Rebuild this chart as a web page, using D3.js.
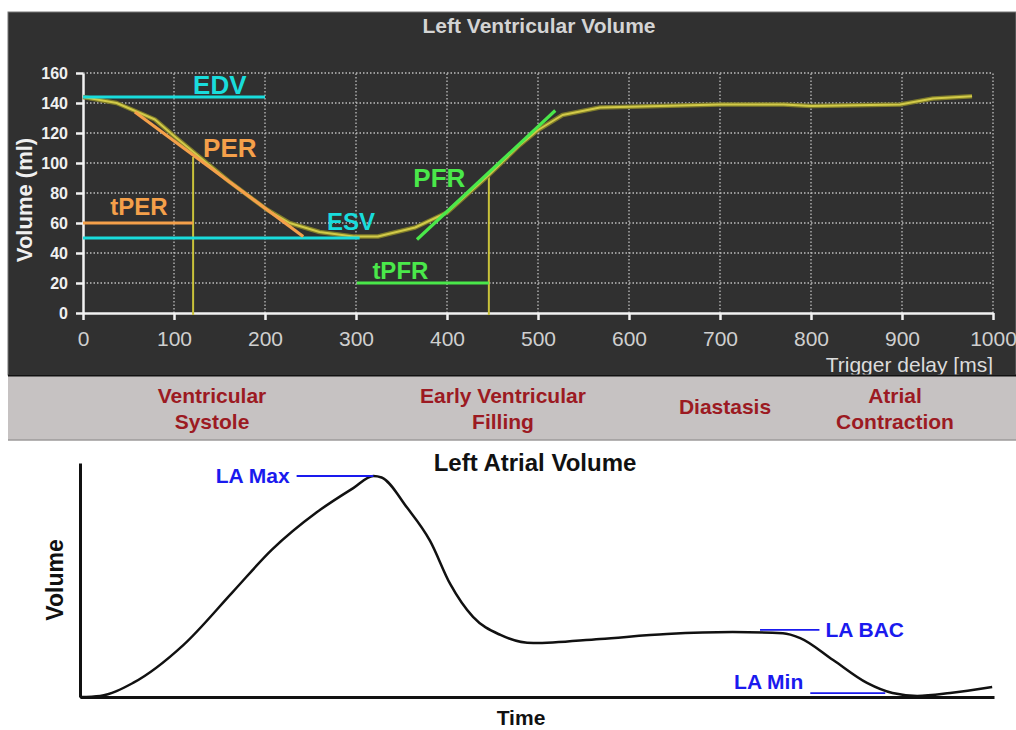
<!DOCTYPE html>
<html>
<head>
<meta charset="utf-8">
<script src="https://cdn.jsdelivr.net/npm/d3@7"></script>
<style>
  body { margin: 0; background: #fff; }
  svg { display: block; font-family: "Liberation Sans", Arial, sans-serif; }
</style>
</head>
<body>
<div id="wrapper"></div>
<script>
// Left ventricular volume curve (ms, ml)
const lvTime = [0, 37, 79, 100, 160, 202, 227, 260, 297, 324, 365, 400, 446, 480, 500, 527, 568, 700, 770, 800, 898, 934, 977]
const lvVolume = [144, 140, 129, 118, 88, 69, 60, 54, 51, 51, 57, 67, 92, 112, 122, 132, 137, 139, 139, 138, 139, 143, 144.5]

const xTicks = [0, 100, 200, 300, 400, 500, 600, 700, 800, 900, 1000]
const yTicks = [0, 20, 40, 60, 80, 100, 120, 140, 160]

// annotation lines on the LV chart: [t1, v1, t2, v2]
const lvMarkNames = ["EDV", "ESV", "PER", "tPER", "PFR", "tPFR"]
const lvMarkLines = [
  [0, 144, 200, 144],
  [0, 50, 304, 50],
  [57, 134, 242, 51],
  [0, 60, 121, 60],
  [367, 49, 519, 135],
  [301, 20, 446, 20]
]
const lvMarkLabelPos = [[121, 146], [268, 55.3], [132, 104], [30, 65.3], [363, 84], [318, 22.7]]
const lvMarkColors = ["#19dcdc", "#19dcdc", "#f5a04a", "#f5a04a", "#4ae84a", "#4ae84a"]
// yellow drop lines at tPER / tPFR
const dropTimes = [121, 446]
const dropVolumes = [104, 93]

const phaseNames = [["Ventricular", "Systole"], ["Early Ventricular", "Filling"], ["Diastasis"], ["Atrial", "Contraction"]]
const phaseCenters = [212, 503, 725, 895]

// Left atrial volume (arbitrary units)
const laTime = [0, 2.2, 5.8, 11.3, 16.7, 21.0, 25.9, 29.9, 32.1, 33.0, 35.8, 38.3, 40.5, 43.0, 46.0, 49.6, 56.9, 64.2, 71.4, 76.9, 78.8, 82.4, 86.1, 88.9, 91.6, 95.2, 99.8]
const laVolume = [0, 0.5, 6.4, 23.6, 47.7, 67, 84, 95, 100.5, 99.8, 86, 71, 51.4, 36.4, 28.2, 24.5, 26.4, 28.6, 29.5, 29, 26.8, 16.8, 6.4, 1.8, 0.5, 1.8, 4.5]

const laMarkNames = ["LA Max", "LA BAC", "LA Min"]
const laMarkStart = [23.7, 74.4, 79.9]
const laMarkEnd = [32.1, 80.9, 88.1]
const laMarkLevel = [100.5, 30.5, 1.8]

const width = 1016
const height = 730

const svg = d3.select("#wrapper")
  .append("svg")
  .attr("width", width)
  .attr("height", height)

// ---- top panel ----
svg.append("rect")
  .attr("x", 8).attr("y", 12)
  .attr("width", width - 8).attr("height", 363)
  .attr("fill", "#303030")
  .attr("stroke", "#777").attr("stroke-width", 1)

const xScale = d3.scaleLinear().domain([0, 1000]).range([83, 993])
const yScale = d3.scaleLinear().domain([0, 160]).range([313, 73])

svg.append("text")
  .attr("x", 539).attr("y", 33)
  .attr("text-anchor", "middle")
  .attr("font-size", "21px").attr("font-weight", "bold")
  .attr("fill", "#d4d4d4")
  .text("Left Ventricular Volume")

// grid
const grid = svg.append("g")
grid.selectAll(".vg").data(xTicks.slice(1)).join("line")
  .attr("x1", d => xScale(d)).attr("x2", d => xScale(d))
  .attr("y1", yScale(0)).attr("y2", yScale(160))
  .attr("stroke", "#bdbdbd").attr("stroke-width", 1.3)
  .attr("stroke-dasharray", "1.5 2")
grid.selectAll(".hg").data(yTicks.slice(1)).join("line")
  .attr("x1", xScale(0)).attr("x2", xScale(1000))
  .attr("y1", d => yScale(d)).attr("y2", d => yScale(d))
  .attr("stroke", "#bdbdbd").attr("stroke-width", 1.3)
  .attr("stroke-dasharray", "1.5 2")

// axes
const xAxis = svg.append("g")
  .attr("transform", `translate(0, ${yScale(0)})`)
  .call(d3.axisBottom(xScale).tickValues(xTicks).tickFormat(d3.format("d"))
    .tickSize(7).tickSizeOuter(0).tickPadding(11))
xAxis.selectAll("path, line").attr("stroke", "#f2f2f2").attr("stroke-width", 2.5)
xAxis.selectAll("text")
  .attr("fill", "#cfcfcf").attr("font-size", "21px")
  .attr("font-family", "\"Liberation Sans\", Arial, sans-serif")

const yAxis = svg.append("g")
  .attr("transform", `translate(${xScale(0)}, 0)`)
  .call(d3.axisLeft(yScale).tickValues(yTicks).tickSize(7).tickSizeOuter(0).tickPadding(8))
yAxis.selectAll("path, line").attr("stroke", "#f2f2f2").attr("stroke-width", 2.5)
yAxis.selectAll("text")
  .attr("fill", "#f0f0f0").attr("font-size", "16px").attr("font-weight", "bold")
  .attr("font-family", "\"Liberation Sans\", Arial, sans-serif")

svg.append("text")
  .attr("transform", "translate(32, 200) rotate(-90)")
  .attr("text-anchor", "middle")
  .attr("font-size", "22px").attr("font-weight", "bold")
  .attr("fill", "#f0f0f0")
  .text("Volume (ml)")

svg.append("text")
  .attr("x", 993).attr("y", 372)
  .attr("text-anchor", "end")
  .attr("font-size", "21px")
  .attr("fill", "#dcdcdc")
  .text("Trigger delay [ms]")

// yellow drop lines
svg.selectAll(".drop").data(dropTimes).join("line")
  .attr("x1", d => xScale(d)).attr("x2", d => xScale(d))
  .attr("y1", (d, i) => yScale(dropVolumes[i])).attr("y2", yScale(0) + 2)
  .attr("stroke", "#c9c23a").attr("stroke-width", 2)

// LV curve
const lvPoints = lvTime.map((t, i) => [t, lvVolume[i]])
const lvLine = d3.line()
  .x(d => xScale(d[0]))
  .y(d => yScale(d[1]))
svg.append("path")
  .attr("d", lvLine(lvPoints))
  .attr("fill", "none").attr("stroke", "#7f7c2a").attr("stroke-width", 4.5)
  .attr("stroke-linejoin", "round")
svg.append("path")
  .attr("d", lvLine(lvPoints))
  .attr("fill", "none").attr("stroke", "#d2ca48").attr("stroke-width", 2)
  .attr("stroke-linejoin", "round")

// annotation lines + labels
svg.selectAll(".mark").data(lvMarkLines).join("line")
  .attr("x1", d => xScale(d[0])).attr("y1", d => yScale(d[1]))
  .attr("x2", d => xScale(d[2])).attr("y2", d => yScale(d[3]))
  .attr("stroke", (d, i) => lvMarkColors[i])
  .attr("stroke-width", 3.2)

svg.selectAll(".markLabel").data(lvMarkNames).join("text")
  .attr("x", (d, i) => xScale(lvMarkLabelPos[i][0]))
  .attr("y", (d, i) => yScale(lvMarkLabelPos[i][1]))
  .attr("fill", (d, i) => lvMarkColors[i])
  .attr("font-size", d => (d === "EDV" || d === "PER" || d === "PFR") ? "26px" : "24px")
  .attr("font-weight", "bold")
  .text(d => d)

// ---- phase band ----
svg.append("rect")
  .attr("x", 8).attr("y", 375)
  .attr("width", width - 8).attr("height", 65)
  .attr("fill", "#c6c2c2")
svg.append("line")
  .attr("x1", 8).attr("x2", width).attr("y1", 375.5).attr("y2", 375.5)
  .attr("stroke", "#111").attr("stroke-width", 2)
svg.append("line")
  .attr("x1", 8).attr("x2", width).attr("y1", 440).attr("y2", 440)
  .attr("stroke", "#9c9a9a").attr("stroke-width", 1.5)

const phase = svg.selectAll(".phase").data(phaseNames).join("text")
  .attr("text-anchor", "middle")
  .attr("fill", "#9c1a22")
  .attr("font-size", "21px").attr("font-weight", "bold")
  .attr("x", (d, i) => phaseCenters[i])
  .attr("y", d => d.length === 1 ? 414 : 403)
phase.selectAll("tspan").data(d => d).join("tspan")
  .attr("x", function () { return this.parentNode.getAttribute("x") })
  .attr("dy", (d, i) => i === 0 ? 0 : 26)
  .text(d => d)

// ---- bottom chart ----
const laX = d3.scaleLinear().domain([0, 100]).range([80, 994])
const laY = d3.scaleLinear().domain([0, 106.4]).range([697, 463])

svg.append("text")
  .attr("x", 535).attr("y", 471)
  .attr("text-anchor", "middle")
  .attr("font-size", "24px").attr("font-weight", "bold")
  .attr("fill", "#111")
  .text("Left Atrial Volume")

const laXAxis = svg.append("g")
  .attr("transform", `translate(0, ${laY(0)})`)
  .call(d3.axisBottom(laX).tickValues([]).tickSizeOuter(0))
const laYAxis = svg.append("g")
  .attr("transform", `translate(${laX(0)}, 0)`)
  .call(d3.axisLeft(laY).tickValues([]).tickSizeOuter(0))
laXAxis.select("path").attr("stroke", "#111").attr("stroke-width", 3)
laYAxis.select("path").attr("stroke", "#111").attr("stroke-width", 3)

svg.append("text")
  .attr("transform", "translate(63, 580) rotate(-90)")
  .attr("text-anchor", "middle")
  .attr("font-size", "23px").attr("font-weight", "bold")
  .attr("fill", "#111")
  .text("Volume")

svg.append("text")
  .attr("x", 521).attr("y", 725)
  .attr("text-anchor", "middle")
  .attr("font-size", "21px").attr("font-weight", "bold")
  .attr("fill", "#111")
  .text("Time")

const laPoints = laTime.map((t, i) => [t, laVolume[i]])
svg.append("path")
  .attr("d", d3.line().x(d => laX(d[0])).y(d => laY(d[1])).curve(d3.curveMonotoneX)(laPoints))
  .attr("fill", "none").attr("stroke", "#111").attr("stroke-width", 2.5)

svg.selectAll(".laMark").data(laMarkNames).join("line")
  .attr("x1", (d, i) => laX(laMarkStart[i])).attr("x2", (d, i) => laX(laMarkEnd[i]))
  .attr("y1", (d, i) => laY(laMarkLevel[i])).attr("y2", (d, i) => laY(laMarkLevel[i]))
  .attr("stroke", "#1a1aee").attr("stroke-width", 1.8)

svg.selectAll(".laLabel").data(laMarkNames).join("text")
  .attr("x", (d, i) => d === "LA BAC" ? laX(laMarkEnd[i]) + 6 : laX(laMarkStart[i]) - 7)
  .attr("y", (d, i) => laY(laMarkLevel[i]) + (d === "LA Min" ? -4 : 7))
  .attr("text-anchor", d => d === "LA BAC" ? "start" : "end")
  .attr("fill", "#1a1aee")
  .attr("font-size", "21px").attr("font-weight", "bold")
  .text(d => d)
</script>
</body>
</html>
